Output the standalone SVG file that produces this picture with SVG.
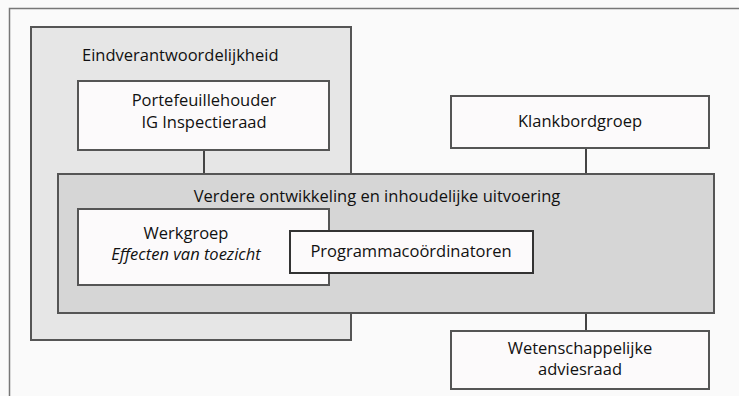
<svg xmlns="http://www.w3.org/2000/svg" width="739" height="396" viewBox="0 0 739 396">
<style>
.bx{stroke:#555;stroke-width:2}
.w{fill:#fcfafb}
.t{font-family:"Open Sans","Noto Sans",sans-serif;font-size:16.5px;fill:#111;text-anchor:middle}
.c{stroke:#444;stroke-width:2;fill:none}
</style>
<rect width="739" height="396" fill="#fafafa"/>
<path d="M9.5,396 V8.5 H739" fill="none" stroke="#777" stroke-width="1.5"/>
<g id="eindverantwoordelijkheid">
<rect class="bx" x="31" y="27" width="320" height="313" fill="#e6e6e6"/>
<text class="t" x="82" y="61" style="text-anchor:start">Eindverantwoordelijkheid</text>
</g>
<g id="connectors">
<path class="c" d="M204,150 V174 M586,148 V174 M586,313 V331"/>
</g>
<g id="portefeuillehouder">
<rect class="bx w" x="78" y="81" width="251" height="69"/>
<text class="t" x="204" y="106">Portefeuillehouder</text>
<text class="t" x="204" y="128">IG Inspectieraad</text>
</g>
<g id="klankbordgroep">
<rect class="bx w" x="451" y="96" width="258" height="52"/>
<text class="t" x="580" y="127">Klankbordgroep</text>
</g>
<g id="verdere">
<rect class="bx" x="58" y="174" width="656" height="139" fill="#d6d6d6"/>
<text class="t" x="377" y="202">Verdere ontwikkeling en inhoudelijke uitvoering</text>
</g>
<g id="werkgroep">
<rect class="bx w" x="78" y="209" width="251" height="76"/>
<text class="t" x="186" y="239">Werkgroep</text>
<text class="t" x="186" y="260" font-style="italic">Effecten van toezicht</text>
</g>
<g id="programmacoordinatoren">
<rect class="w" x="290" y="231" width="243" height="42" stroke="#333" stroke-width="2"/>
<text class="t" x="411" y="257">Programmacoördinatoren</text>
</g>
<g id="wetenschappelijke">
<rect class="bx w" x="451" y="331" width="258" height="58"/>
<text class="t" x="580" y="354">Wetenschappelijke</text>
<text class="t" x="580" y="375">adviesraad</text>
</g>
</svg>
